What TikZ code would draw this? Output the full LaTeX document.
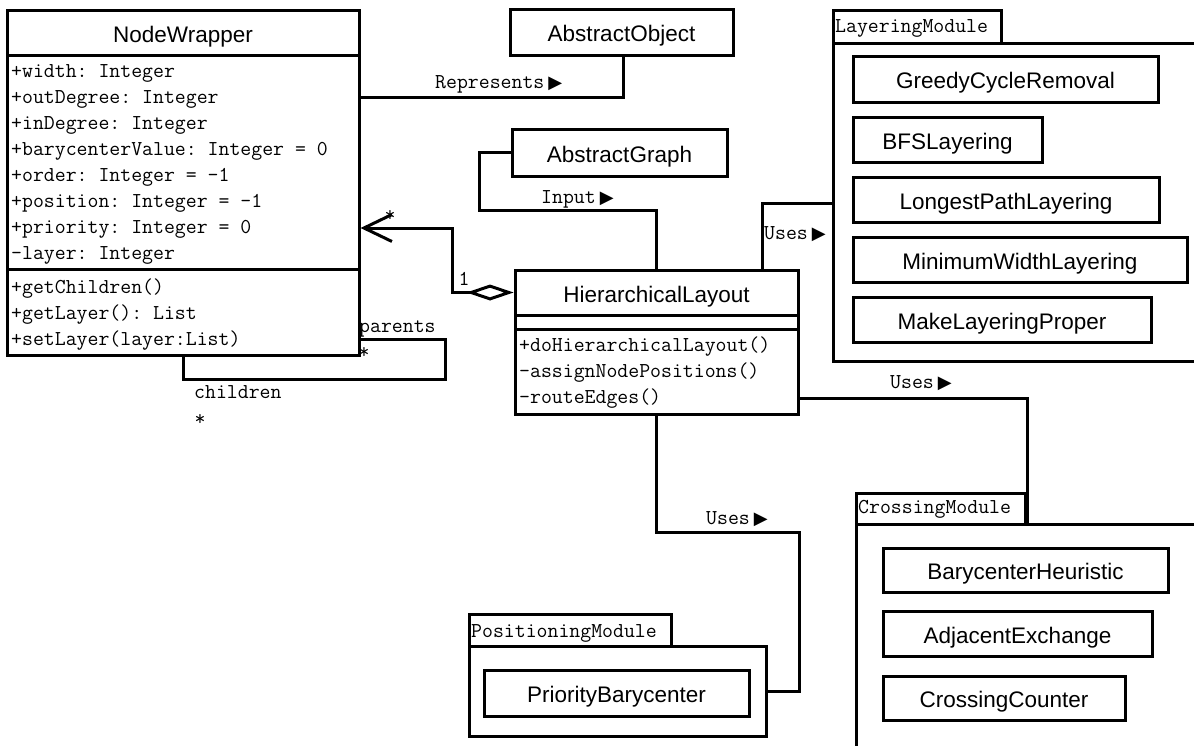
\documentclass[tikz,border=0pt]{standalone}
\usepackage{fontspec}
\newfontfamily\sansf{Liberation Sans}
\newfontfamily\symf{DejaVu Sans}
\usetikzlibrary{arrows.meta}
\newcommand\rtri{\hspace{4pt}{\symf\fontsize{18}{18}\selectfont ▶}}
\frenchspacing
\begin{document}
\begin{tikzpicture}[x=1pt,y=-1pt,
  box/.style={draw, line width=3pt, rectangle, inner sep=0pt, text height=22pt, text depth=3pt, font=\sansf\fontsize{22.5}{27}\selectfont},
  comp/.style={draw, line width=3pt, rectangle, inner sep=0pt},
  mono/.style={inner sep=0pt, anchor=base west, font=\frenchspacing\ttfamily\fontsize{21.2}{26}\selectfont},
  monoc/.style={inner sep=0pt, anchor=base, font=\ttfamily\fontsize{21.2}{26}\selectfont},
  conn/.style={line width=3pt}]
\useasboundingbox (0,0) rectangle (1194,745);
\clip (0,0) rectangle (1194,745);

% NodeWrapper
\node[box, minimum width=352pt, minimum height=45pt] (nwh) at (183,32.5) {NodeWrapper};
\node[comp, minimum width=352pt, minimum height=214pt] (nwa) at (183,162) {};
\node[comp, minimum width=352pt, minimum height=86pt] (nwm) at (183,312) {};
\node[mono] (at1) at (11,77) {+width: Integer};
\node[mono] (at2) at (11,103) {+outDegree: Integer};
\node[mono] (at3) at (11,129) {+inDegree: Integer};
\node[mono] (at4) at (11,155) {+barycenterValue: Integer = 0};
\node[mono] (at5) at (11,181) {+order: Integer = -1};
\node[mono] (at6) at (11,207) {+position: Integer = -1};
\node[mono] (at7) at (11,233) {+priority: Integer = 0};
\node[mono] (at8) at (11,259) {-layer: Integer};
\node[mono] (mt1) at (11,293) {+getChildren()};
\node[mono] (mt2) at (11,319) {+getLayer(): List};
\node[mono] (mt3) at (11,345) {+setLayer(layer:List)};

% AbstractObject, AbstractGraph
\node[box, minimum width=223pt, minimum height=46pt] (ao) at (621.5,32) {AbstractObject};
\node[box, minimum width=215pt, minimum height=47pt] (ag) at (619.5,152.5) {AbstractGraph};

% HierarchicalLayout
\node[box, minimum width=283pt, minimum height=45pt] (hlh) at (656.5,292.5) {HierarchicalLayout};
\node[comp, minimum width=283pt, minimum height=14pt] (hla) at (656.5,322) {};
\node[comp, minimum width=283pt, minimum height=85pt] (hlm) at (656.5,371.5) {};
\node[mono] (hm1) at (519,351) {+doHierarchicalLayout()};
\node[mono] (hm2) at (519,377) {-assignNodePositions()};
\node[mono] (hm3) at (519,403) {-routeEdges()};

% LayeringModule
\node[comp, minimum width=397pt, minimum height=318pt] (lmb) at (1031.5,202) {};
\node[comp, minimum width=168pt, minimum height=33pt] (lmt) at (917,26.5) {};
\node[mono] (lmtx) at (835,32) {LayeringModule};
\node[box, minimum width=305pt, minimum height=46pt] (gcr) at (1005.5,79) {GreedyCycleRemoval};
\node[box, minimum width=189pt, minimum height=45pt] (bfs) at (947.5,139.5) {BFSLayering};
\node[box, minimum width=306pt, minimum height=45pt] (lpl) at (1006,199.5) {LongestPathLayering};
\node[box, minimum width=334pt, minimum height=45pt] (mwl) at (1020,259.5) {MinimumWidthLayering};
\node[box, minimum width=298pt, minimum height=45pt] (mlp) at (1002,319.5) {MakeLayeringProper};

% CrossingModule
\node[comp, minimum width=374pt, minimum height=256pt] (cmb) at (1043,652) {};
\node[comp, minimum width=169pt, minimum height=31pt] (cmt) at (940.5,508.5) {};
\node[mono] (cmtx) at (858,513) {CrossingModule};
\node[box, minimum width=285pt, minimum height=44pt] (bh) at (1025.5,570) {BarycenterHeuristic};
\node[box, minimum width=269pt, minimum height=45pt] (ae) at (1017.5,633.5) {AdjacentExchange};
\node[box, minimum width=242pt, minimum height=44pt] (cc) at (1004,698) {CrossingCounter};

% PositioningModule
\node[comp, minimum width=297pt, minimum height=90pt] (pmb) at (617.5,691) {};
\node[comp, minimum width=202pt, minimum height=32pt] (pmt) at (570,630) {};
\node[mono] (pmtx) at (471,637) {PositioningModule};
\node[box, minimum width=265pt, minimum height=46pt] (pb) at (616.5,693) {PriorityBarycenter};

% connectors
\coordinate (r1) at (623,97);
\draw[conn] (r1 -| nwa.east) -- (r1) -- (ao.south -| r1);
\node[mono] (lrep) at (435,88) {Represents\rtri};

\coordinate (i1) at (479,210);
\draw[conn] (ag.west) -- (ag.west -| i1) -- (i1) -- (i1 -| hlh.north) -- (hlh.north);
\node[mono] (linp) at (541,203) {Input\rtri};

\coordinate (a1) at (452,228);
\draw[conn, {Diamond[open, length=47pt, width=16pt]}-{Straight Barb[length=28pt, width=27pt]}]
  (hlh.west) -- (hlh.west -| a1) -- (a1) -- (a1 -| nwa.east);
\node[monoc] (lone) at (464,285) {1};
\node[monoc] (lstar) at (390,221) {*};

\coordinate (u1) at (762,203);
\draw[conn] (hlh.north -| u1) -- (u1) -- (u1 -| lmb.west);
\node[mono] (lu1) at (764,239) {Uses\rtri};

\coordinate (u2) at (1027,398);
\draw[conn] (u2 -| hlm.east) -- (u2) -- (u2 |- cmb.north);
\node[mono] (lu2) at (890,388) {Uses\rtri};

\coordinate (u3) at (657,532);
\coordinate (u4) at (799,532);
\draw[conn] (hlm.south) -- (hlm.south |- u3) -- (u4) -- (pmb.east -| u4) -- (pmb.east);
\node[mono] (lu3) at (706,524) {Uses\rtri};

\coordinate (s1) at (445,339);
\coordinate (s2) at (183,379);
\draw[conn] (s1 -| nwm.east) -- (s1) -- (s1 |- s2) -- (s2) -- (s2 |- nwm.south);
\node[mono] (lpar) at (359,332) {parents};
\node[monoc] (lps) at (364,358) {*};
\node[mono] (lchi) at (194,398) {children};
\node[monoc] (lcs) at (200,425) {*};
\end{tikzpicture}
\end{document}
